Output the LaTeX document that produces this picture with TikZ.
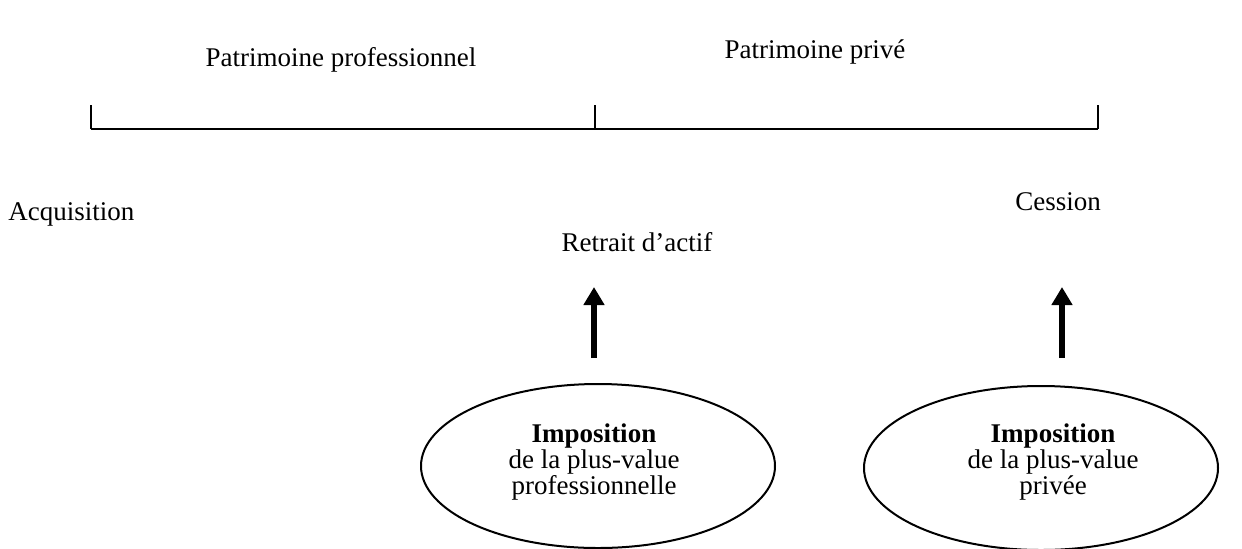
\documentclass[tikz,border=0pt]{standalone}
\usepackage{fontspec}
\setmainfont{Liberation Serif}
\usetikzlibrary{arrows.meta, shapes.geometric}

\begin{document}
\begin{tikzpicture}[x=0.5pt, y=-0.5pt,
every node/.style={font=\fontsize{13.5}{13}\selectfont, inner sep=0pt},
axis/.style={line width=1pt},
taxbox/.style={draw, ellipse, line width=1pt, minimum width=177pt, minimum height=82pt},
bigarrow/.style={line width=3.3pt, -{Triangle[width=10pt, length=9pt]}}]

\useasboundingbox (0,0) rectangle (1242,548);

% frise
\coordinate (t0) at (91,129);
\coordinate (t1) at (595,129);
\coordinate (t2) at (1098,129);
\draw[axis] (t0) -- (t2);
\draw[axis] (t0) -- ++(0,-24);
\draw[axis] (t1) -- ++(0,-24);
\draw[axis] (t2) -- ++(0,-24);

\node (pro) [anchor=base] at (341,66) {Patrimoine professionnel};
\node (prive) [anchor=base] at (815,58) {Patrimoine privé};

\node (acq) [anchor=base west] at (8,220) {Acquisition};
\node (retrait) [anchor=base] at (637,251) {Retrait d’actif};
\node (cession) [anchor=base] at (1058,210) {Cession};

% imposition
\node (tax1) [taxbox] at (598,466) {};
\node (tax2) [taxbox] at (1041,468) {};
\node (txt1) [align=center] at (594,462) {\textbf{Imposition}\\de la plus-value\\professionnelle};
\node (txt2) [align=center] at (1053,462) {\textbf{Imposition}\\de la plus-value\\privée};

\coordinate (a1s) at (594,358);
\coordinate (a1e) at (594,287);
\coordinate (a2s) at (1062,358);
\coordinate (a2e) at (1062,287);
\draw[bigarrow] (a1s) -- (a1e);
\draw[bigarrow] (a2s) -- (a2e);
\end{tikzpicture}
\end{document}
